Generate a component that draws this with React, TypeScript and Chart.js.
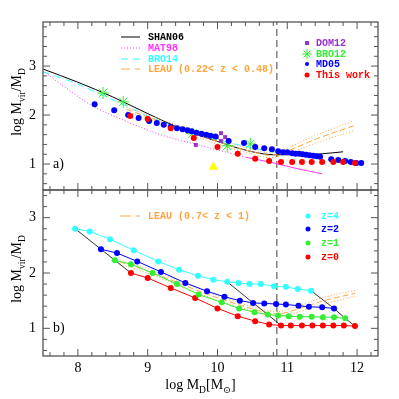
import React, { useEffect, useRef } from "react";
import { Chart, registerables } from "chart.js";
Chart.register(...registerables);

// ---- axes ----
const X_MIN = 7.5;
const X_MAX = 12.3;
const YA_MIN = 0.47;
const YA_MAX = 3.9;
const YB_MIN = 0.5;
const YB_MAX = 3.5;
const X_TICKS = [8, 9, 10, 11, 12];
const Y_TICKS = [1, 2, 3];
const V_LINE_X = 10.85;

// ---- panel a ----
const shanX = [7.5, 8.0, 8.5, 9.0, 9.5, 10.0, 10.5, 10.8, 11.2, 11.5, 11.8];
const shanY = [2.94, 2.67, 2.37, 2.03, 1.71, 1.46, 1.25, 1.19, 1.19, 1.21, 1.25];

const matX = [7.5, 7.93, 8.22, 8.65, 9.18, 9.7, 10.05, 10.4, 10.75, 11.1, 11.5];
const matY = [2.9, 2.45, 2.18, 1.9, 1.6, 1.4, 1.27, 1.14, 1.04, 0.92, 0.8];

const bro14X = [7.5, 7.93, 8.41, 8.7, 9.0, 9.5, 10.0, 10.5, 11.0];
const bro14Y = [2.88, 2.67, 2.37, 2.18, 1.98, 1.72, 1.5, 1.33, 1.2];

const leauAX = [8.7, 9.0, 9.5, 10.0, 10.5, 10.75, 11.0, 11.43, 11.95];
const leauAY = [2.12, 1.96, 1.71, 1.46, 1.25, 1.18, 1.27, 1.52, 1.78];
const leauAUpY = [2.16, 2.0, 1.76, 1.51, 1.3, 1.23, 1.33, 1.6, 1.88];
const leauALoY = [2.08, 1.92, 1.66, 1.41, 1.2, 1.13, 1.21, 1.44, 1.68];

const dom12X = [9.69, 10.05, 9.99, 10.11, 10.05];
const dom12Y = [1.39, 1.63, 1.55, 1.55, 1.47];

const bro12X = [8.36, 8.65, 9.64, 10.14, 10.47];
const bro12Y = [2.45, 2.27, 1.62, 1.37, 1.41];

const md05X = [8.24, 8.52, 8.72, 8.87, 9.02, 9.13, 9.23, 9.33, 9.42, 9.5, 9.57, 9.63, 9.7, 9.77, 9.84, 9.9, 9.97, 10.16, 10.38, 10.54, 10.67, 10.78, 10.87, 10.94, 11.0, 11.07, 11.12, 11.17, 11.22, 11.27, 11.32, 11.37, 11.42, 11.47, 11.63, 11.73, 11.83, 11.91, 11.99, 12.06];
const md05Y = [2.22, 2.1, 2.0, 1.94, 1.88, 1.84, 1.8, 1.76, 1.73, 1.71, 1.69, 1.67, 1.64, 1.62, 1.6, 1.58, 1.56, 1.47, 1.43, 1.35, 1.32, 1.3, 1.26, 1.24, 1.24, 1.22, 1.21, 1.21, 1.2, 1.19, 1.18, 1.17, 1.16, 1.15, 1.1, 1.08, 1.06, 1.04, 1.02, 1.02];

const thisX = [8.75, 9.0, 9.33, 9.66, 10.0, 10.29, 10.54, 10.74, 10.91, 11.07, 11.21, 11.35, 11.5, 11.66, 11.8, 11.97];
const thisY = [1.98, 1.92, 1.73, 1.53, 1.35, 1.21, 1.11, 1.06, 1.04, 1.04, 1.04, 1.04, 1.04, 1.04, 1.04, 1.02];

const triX = [9.94];
const triY = [0.94];

// ---- panel b ----
const z4X = [7.96, 8.17, 8.46, 8.8, 9.15, 9.45, 9.72, 9.94, 10.14, 10.3, 10.46, 10.62, 10.81, 10.98, 11.15, 11.34];
const z4Y = [2.8, 2.75, 2.61, 2.41, 2.21, 2.06, 1.95, 1.88, 1.84, 1.82, 1.8, 1.8, 1.76, 1.75, 1.71, 1.68];
const z2X = [8.33, 8.56, 8.85, 9.19, 9.54, 9.85, 10.1, 10.32, 10.51, 10.67, 10.84, 10.98, 11.16, 11.31, 11.5, 11.67];
const z2Y = [2.43, 2.36, 2.21, 2.02, 1.82, 1.67, 1.57, 1.5, 1.46, 1.45, 1.44, 1.43, 1.41, 1.39, 1.38, 1.36];
const z1X = [8.53, 8.76, 9.07, 9.42, 9.73, 10.06, 10.31, 10.53, 10.72, 10.87, 11.02, 11.18, 11.35, 11.51, 11.67, 11.83];
const z1Y = [2.23, 2.16, 2.0, 1.8, 1.61, 1.47, 1.36, 1.29, 1.25, 1.23, 1.22, 1.21, 1.21, 1.2, 1.2, 1.18];
const z0X = [8.76, 9.0, 9.33, 9.68, 10.0, 10.29, 10.54, 10.74, 10.91, 11.05, 11.21, 11.36, 11.51, 11.66, 11.81, 11.97];
const z0Y = [2.0, 1.91, 1.73, 1.55, 1.36, 1.22, 1.13, 1.07, 1.05, 1.05, 1.05, 1.05, 1.05, 1.05, 1.05, 1.04];
const isoIndex = [0, 8, 15];

const leauBX = [8.6, 8.9, 9.2, 9.5, 9.8, 10.1, 10.4, 10.65, 10.85, 11.0, 11.2, 11.5, 11.75, 11.97];
const leauBY = [2.2, 2.08, 1.94, 1.79, 1.64, 1.51, 1.39, 1.3, 1.26, 1.29, 1.37, 1.49, 1.57, 1.63];
const leauBUpY = [2.24, 2.12, 1.98, 1.83, 1.68, 1.55, 1.43, 1.34, 1.3, 1.34, 1.43, 1.55, 1.63, 1.68];
const leauBLoY = [2.16, 2.04, 1.9, 1.75, 1.6, 1.47, 1.35, 1.26, 1.22, 1.24, 1.31, 1.43, 1.51, 1.58];

// ---- styles ----
const C = {
  black: "#000000",
  magenta: "#ff33ff",
  cyan: "#33ffff",
  orange: "#ffa540",
  purple: "#9933cc",
  green: "#33ee33",
  blue: "#0000ff",
  red: "#ff0000",
  yellow: "#ffff00",
  gray: "#808080",
  frame: "#555555",
};
const SERIF = '"Liberation Serif", "DejaVu Serif", serif';
const MONO = '"Liberation Mono", "DejaVu Sans Mono", monospace';

const zip = (xs: number[], ys: number[]) => xs.map((x, i) => ({ x, y: ys[i] }));

type Part = { t: string; sub?: boolean };
function drawRich(ctx: CanvasRenderingContext2D, parts: Part[], x: number, y: number, size: number, color: string) {
  const sub = size * 0.68;
  const widths = parts.map((p) => {
    ctx.font = `${p.sub ? sub : size}px ${SERIF}`;
    return ctx.measureText(p.t).width;
  });
  const total = widths.reduce((a, b) => a + b, 0);
  let cx = x - total / 2;
  ctx.fillStyle = color;
  ctx.textAlign = "left";
  ctx.textBaseline = "alphabetic";
  parts.forEach((p, i) => {
    ctx.font = `${p.sub ? sub : size}px ${SERIF}`;
    ctx.fillText(p.t, cx, y + (p.sub ? size * 0.28 : 0));
    cx += widths[i];
  });
}

function seg(ctx: CanvasRenderingContext2D, x1: number, y1: number, x2: number, y2: number) {
  ctx.beginPath();
  ctx.moveTo(x1, y1);
  ctx.lineTo(x2, y2);
  ctx.stroke();
}

function drawSymbol(ctx: CanvasRenderingContext2D, kind: string, x: number, y: number, r: number, color: string) {
  ctx.save();
  ctx.fillStyle = color;
  ctx.strokeStyle = color;
  ctx.setLineDash([]);
  if (kind === "circle") {
    ctx.beginPath();
    ctx.arc(x, y, r, 0, Math.PI * 2);
    ctx.fill();
  } else if (kind === "rect") {
    ctx.fillRect(x - r, y - r, 2 * r, 2 * r);
  } else if (kind === "star") {
    ctx.lineWidth = 1;
    for (let k = 0; k < 4; k++) {
      const a = (k * Math.PI) / 4;
      seg(ctx, x - r * Math.cos(a), y - r * Math.sin(a), x + r * Math.cos(a), y + r * Math.sin(a));
    }
  }
  ctx.restore();
}

function legendText(ctx: CanvasRenderingContext2D, text: string, x: number, y: number, color: string) {
  ctx.save();
  ctx.fillStyle = color;
  ctx.font = `bold 10px ${MONO}`;
  ctx.textAlign = "left";
  ctx.textBaseline = "middle";
  ctx.fillText(text, x, y);
  ctx.restore();
}

function legendLine(ctx: CanvasRenderingContext2D, x1: number, x2: number, y: number, color: string, dash: number[], text: string, tx: number) {
  ctx.save();
  ctx.strokeStyle = color;
  ctx.lineWidth = 1;
  ctx.setLineDash(dash);
  seg(ctx, x1, y, x2, y);
  ctx.restore();
  legendText(ctx, text, tx, y, color);
}

function legendPoint(ctx: CanvasRenderingContext2D, kind: string, r: number, x: number, y: number, color: string, text: string, tx: number) {
  drawSymbol(ctx, kind, x, y, r, color);
  legendText(ctx, text, tx, y, color);
}

function decorPlugin(cfg: { panel: string; labelY: number; legend: (ctx: CanvasRenderingContext2D) => void; xTitle: boolean }) {
  return {
    id: "decor" + cfg.panel,
    afterDraw(chart: any) {
      const { ctx, chartArea: a, scales } = chart;
      const xs = scales.x;
      const ys = scales.y;
      ctx.save();
      ctx.strokeStyle = C.frame;
      ctx.lineWidth = 1.3;
      ctx.setLineDash([]);
      ctx.strokeRect(a.left, a.top, a.right - a.left, a.bottom - a.top);
      ctx.lineWidth = 1;
      for (let i = Math.ceil(xs.min * 5 - 1e-6); i <= Math.floor(xs.max * 5 + 1e-6); i++) {
        const major = i % 5 === 0;
        const len = major ? 7 : 4;
        const px = xs.getPixelForValue(i / 5);
        seg(ctx, px, a.bottom, px, a.bottom - len);
        seg(ctx, px, a.top, px, a.top + len);
      }
      for (let i = Math.ceil(ys.min * 5 - 1e-6); i <= Math.floor(ys.max * 5 + 1e-6); i++) {
        const major = i % 5 === 0;
        const len = major ? 7 : 4;
        const py = ys.getPixelForValue(i / 5);
        seg(ctx, a.left, py, a.left + len, py);
        seg(ctx, a.right, py, a.right - len, py);
      }
      // y title
      ctx.save();
      ctx.translate(21, (a.top + a.bottom) / 2 - 4);
      ctx.rotate(-Math.PI / 2);
      drawRich(ctx, [{ t: "log M" }, { t: "vir", sub: true }, { t: "/M" }, { t: "D", sub: true }], 0, 0, 14, C.black);
      ctx.restore();
      // x title
      if (cfg.xTitle) {
        drawRich(ctx, [{ t: "log M" }, { t: "D", sub: true }, { t: "[M" }, { t: "⊙", sub: true }, { t: "]" }], (a.left + a.right) / 2 - 10, a.bottom + 33, 14, C.black);
      }
      // panel label
      ctx.fillStyle = C.black;
      ctx.font = `14px ${SERIF}`;
      ctx.textAlign = "left";
      ctx.textBaseline = "middle";
      ctx.fillText(cfg.panel + ")", 53, ys.getPixelForValue(cfg.labelY));
      cfg.legend(ctx);
      ctx.restore();
    },
  };
}

function options(yMin: number, yMax: number, showX: boolean, padding: any) {
  return {
    responsive: false,
    maintainAspectRatio: false,
    animation: false,
    devicePixelRatio: 1,
    events: [],
    layout: { padding, autoPadding: false },
    plugins: { legend: { display: false }, tooltip: { enabled: false }, title: { display: false } },
    scales: {
      x: {
        type: "linear",
        min: X_MIN,
        max: X_MAX,
        display: showX,
        grid: { display: false, drawTicks: false },
        border: { display: false },
        ticks: { font: { family: SERIF, size: 14 }, color: C.black, padding: 4, maxRotation: 0, autoSkip: false, callback: (v: number) => String(v) },
        afterBuildTicks: (s: any) => {
          s.ticks = X_TICKS.map((v) => ({ value: v }));
        },
        afterFit: (s: any) => {
          s.height = showX ? 43 : 0;
          s.paddingLeft = 0;
          s.paddingRight = 0;
          s.paddingTop = 0;
          s.paddingBottom = 0;
        },
      },
      y: {
        type: "linear",
        min: yMin,
        max: yMax,
        grid: { display: false, drawTicks: false },
        border: { display: false },
        ticks: { font: { family: SERIF, size: 14 }, color: C.black, padding: 7, callback: (v: number) => String(v) },
        afterBuildTicks: (s: any) => {
          s.ticks = Y_TICKS.map((v) => ({ value: v }));
        },
        afterFit: (s: any) => {
          s.width = 43;
          s.paddingTop = 0;
          s.paddingBottom = 0;
          s.paddingLeft = 0;
          s.paddingRight = 0;
        },
      },
    },
  };
}

const lineDs = (data: any[], color: string, dash: number[], order: number, extra: any = {}) => ({
  data,
  showLine: true,
  borderColor: color,
  borderWidth: 1,
  borderDash: dash,
  pointRadius: 0,
  fill: false,
  tension: 0,
  cubicInterpolationMode: "monotone",
  order,
  ...extra,
});

const pointDs = (data: any[], color: string, style: string, radius: number, order: number, extra: any = {}) => ({
  data,
  showLine: false,
  pointStyle: style,
  pointRadius: radius,
  pointBackgroundColor: color,
  pointBorderColor: color,
  pointBorderWidth: 0,
  order,
  ...extra,
});

export default function App() {
  const refA = useRef<HTMLCanvasElement>(null);
  const refB = useRef<HTMLCanvasElement>(null);

  useEffect(() => {
    const legendA = (ctx: CanvasRenderingContext2D) => {
      legendLine(ctx, 121, 140, 37, C.black, [], "SHAN06", 148);
      legendLine(ctx, 121, 140, 48, C.magenta, [1, 2], "MAT98", 148);
      legendLine(ctx, 121, 140, 59, C.cyan, [7, 5], "BRO14", 148);
      legendLine(ctx, 121, 140, 69, C.orange, [9, 5], "LEAU (0.22< z < 0.48)", 148);
      legendPoint(ctx, "rect", 2, 307, 43, C.purple, "DOM12", 316);
      legendPoint(ctx, "star", 5, 307, 54, C.green, "BRO12", 316);
      legendPoint(ctx, "circle", 2, 307, 64, C.blue, "MD05", 316);
      legendPoint(ctx, "circle", 2.5, 307, 75, C.red, "This work", 316);
    };
    const legendB = (ctx: CanvasRenderingContext2D) => {
      legendLine(ctx, 120, 140, 27, C.orange, [11, 5], "LEAU (0.7< z < 1)", 148);
      legendPoint(ctx, "circle", 2.5, 308, 27, C.cyan, "z=4", 321);
      legendPoint(ctx, "circle", 2.5, 308, 40, C.blue, "z=2", 321);
      legendPoint(ctx, "circle", 2.5, 308, 54, C.green, "z=1", 321);
      legendPoint(ctx, "circle", 2.5, 308, 68, C.red, "z=0", 321);
    };

    const chartA = new Chart(refA.current as HTMLCanvasElement, {
      type: "scatter",
      data: {
        datasets: [
          pointDs(zip(thisX, thisY), C.red, "circle", 3, 0),
          pointDs(zip(md05X, md05Y), C.blue, "circle", 3, 1),
          pointDs(zip(bro12X, bro12Y), C.green, "star", 6, 2, { pointBorderWidth: 1 }),
          pointDs(zip(dom12X, dom12Y), C.purple, "rect", 2.8, 3),
          pointDs(zip(triX, triY), C.yellow, "triangle", 5.5, 4),
          lineDs(zip(leauAX, leauAY), C.orange, [6, 3], 5),
          lineDs(zip(leauAX, leauAUpY), C.orange, [1, 2], 5),
          lineDs(zip(leauAX, leauALoY), C.orange, [1, 2], 5),
          lineDs(zip(shanX, shanY), C.black, [], 6),
          lineDs(zip(bro14X, bro14Y), C.cyan, [7, 5], 7),
          lineDs(zip(matX, matY), C.magenta, [], 8, {
            segment: { borderDash: (c: any) => (c.p0.parsed.x < 10.39 ? [1, 2] : []) },
          }),
          lineDs([{ x: V_LINE_X, y: YA_MIN }, { x: V_LINE_X, y: YA_MAX }], C.gray, [7, 4], 9, { borderWidth: 1.5, cubicInterpolationMode: "default" }),
        ],
      },
      options: options(YA_MIN, YA_MAX, false, { left: 0, right: 21, top: 22, bottom: 1 }) as any,
      plugins: [decorPlugin({ panel: "a", labelY: 1.0, legend: legendA, xTitle: false })],
    } as any);

    const iso = isoIndex.map((k) => [
      { x: z4X[k], y: z4Y[k] },
      { x: z2X[k], y: z2Y[k] },
      { x: z1X[k], y: z1Y[k] },
      { x: z0X[k], y: z0Y[k] },
    ]);

    const zLine = (xs: number[], ys: number[], color: string, order: number) =>
      lineDs(zip(xs, ys), color, [], order, { pointRadius: 3, pointBackgroundColor: color, pointBorderWidth: 0, cubicInterpolationMode: "default" });

    const chartB = new Chart(refB.current as HTMLCanvasElement, {
      type: "scatter",
      data: {
        datasets: [
          zLine(z4X, z4Y, C.cyan, 1),
          zLine(z2X, z2Y, C.blue, 2),
          zLine(z1X, z1Y, C.green, 3),
          zLine(z0X, z0Y, C.red, 4),
          ...iso.map((d) => lineDs(d, C.black, [], 5, { cubicInterpolationMode: "default", borderWidth: 0.8 })),
          lineDs(zip(leauBX, leauBY), C.orange, [6, 3], 6),
          lineDs(zip(leauBX, leauBUpY), C.orange, [1, 2], 6),
          lineDs(zip(leauBX, leauBLoY), C.orange, [1, 2], 6),
          lineDs([{ x: V_LINE_X, y: YB_MIN }, { x: V_LINE_X, y: YB_MAX }], C.gray, [7, 4], 9, { borderWidth: 1.5, cubicInterpolationMode: "default" }),
        ],
      },
      options: options(YB_MIN, YB_MAX, true, { left: 0, right: 21, top: 1, bottom: 0 }) as any,
      plugins: [decorPlugin({ panel: "b", labelY: 1.0, legend: legendB, xTitle: true })],
    } as any);

    return () => {
      chartA.destroy();
      chartB.destroy();
    };
  }, []);

  return (
    <div style={{ position: "absolute", left: 0, top: 0, width: 399, height: 399, background: "#fff" }}>
      <canvas ref={refA} width={399} height={191} style={{ position: "absolute", left: 0, top: 0, width: 399, height: 191 }} />
      <canvas ref={refB} width={399} height={210} style={{ position: "absolute", left: 0, top: 189, width: 399, height: 210 }} />
    </div>
  );
}
